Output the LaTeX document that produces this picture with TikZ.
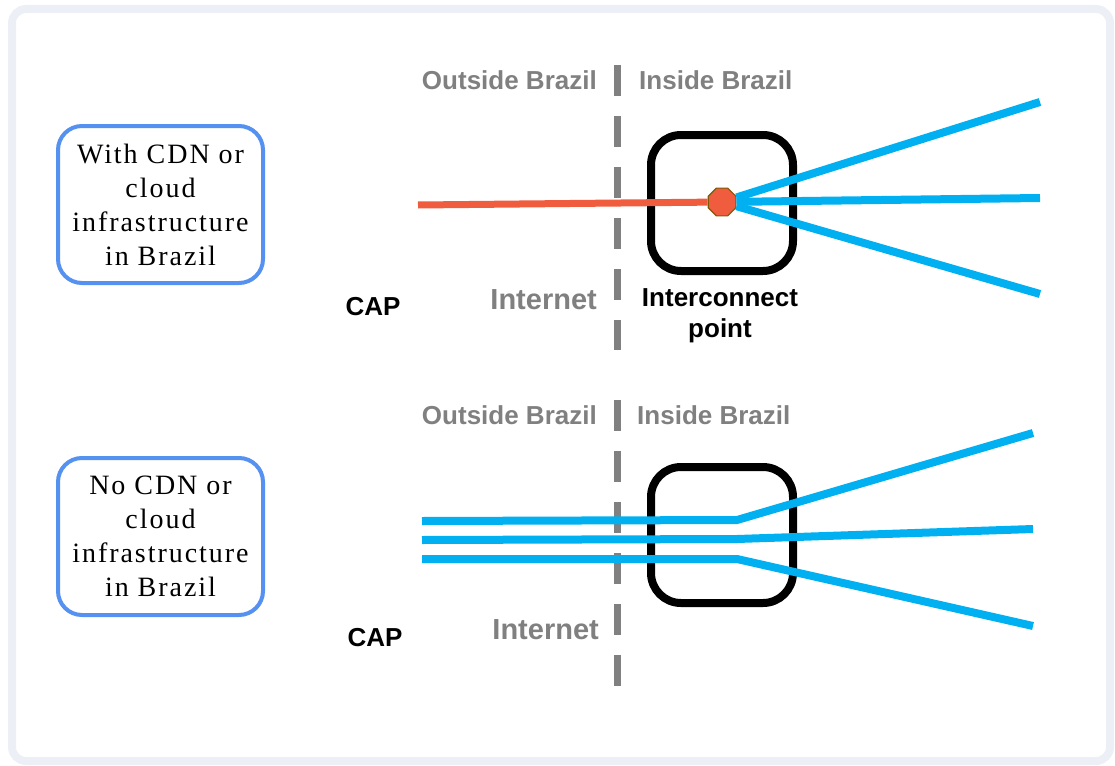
\documentclass[tikz,border=0pt]{standalone}
\usepackage{fontspec}
\setmainfont{Liberation Serif}
\setsansfont{Liberation Sans}
\newfontfamily\boxfont[LetterSpace=7]{Liberation Serif}
\usetikzlibrary{shapes.geometric}
\definecolor{framegray}{RGB}{236,240,246}
\definecolor{boxblue}  {RGB}{ 85,145,240}
\definecolor{wire}     {RGB}{  0,176,240}
\definecolor{transit}  {RGB}{240, 92, 62}
\definecolor{dotrim}   {RGB}{125, 90, 10}
\definecolor{sidegray} {RGB}{128,128,128}
\newcommand{\lblfont}{\sffamily\bfseries\fontsize{26}{31}\selectfont}
\newcommand{\netfont}{\sffamily\bfseries\fontsize{29}{34}\selectfont}

\begin{document}
\begin{tikzpicture}[x=1pt,y=-1pt,
   site/.style  ={draw=boxblue, line width=4, rounded corners=24, inner sep=0,
                  minimum width=205, minimum height=157, align=center,
                  font=\boxfont\fontsize{28}{34}\selectfont},
   ixp/.style   ={draw, line width=8, rounded corners=30, inner sep=0,
                  minimum width=142, minimum height=136},
   hop/.style   ={regular polygon, regular polygon sides=8, minimum size=30,
                  inner sep=0, fill=transit, draw=dotrim, line width=1.2},
   divide/.style={sidegray, line width=7, dash pattern=on 31 off 20},
   cable/.style ={wire, line width=8},
   route/.style ={transit, line width=7},
   sidelbl/.style={text=sidegray, font=\lblfont, inner sep=0}]
   \useasboundingbox (0,0) rectangle (1115,765);
   \draw[framegray, line width=8, rounded corners=14] (12,9) rectangle (1110,761);
 %
 % top: with CDN
   \node[site] (site1) at (160.5,204.5) {With CDN or\\cloud\\infrastructure\\in Brazil};
   \coordinate (cut1a) at (617, 65);
   \coordinate (cut1b) at (617,350);
   \draw[divide] (cut1a) -- (cut1b);
   \node[sidelbl, anchor=east] (out1) at (597, 80) {Outside Brazil};
   \node[sidelbl, anchor=west] (in1)  at (639, 80) {Inside Brazil};
   \node[sidelbl, anchor=east, font=\netfont] (net1) at (597,300) {Internet};
   \node[inner sep=0, font=\lblfont] (cap1) at (373,307) {CAP};
   \node[inner sep=0, font=\lblfont, align=center] (ixl1) at (720,316) {Interconnect\\point};
 %
   \node[ixp] (ixp1) at (722,203) {};
   \node[hop] (dot1) at (722,202) {};
   \coordinate (src1)  at ( 418,205);
   \coordinate (end1a) at (1040,102);
   \coordinate (end1b) at (1040,198);
   \coordinate (end1c) at (1040,294);
   \draw[route] (src1) -- (dot1);
   \draw[cable] (dot1) -- (end1a);
   \draw[cable] (dot1) -- (end1b);
   \draw[cable] (dot1) -- (end1c);
 %
 % bottom: no CDN
   \node[site] (site2) at (160.5,536.5) {No CDN or\\cloud\\infrastructure\\in Brazil};
   \coordinate (cut2a) at (617,400);
   \coordinate (cut2b) at (617,686);
   \draw[divide] (cut2a) -- (cut2b);
   \node[sidelbl, anchor=east] (out2) at (597,415) {Outside Brazil};
   \node[sidelbl, anchor=west] (in2)  at (637,415) {Inside Brazil};
   \node[sidelbl, anchor=east, font=\netfont] (net2) at (599,630) {Internet};
   \node[inner sep=0, font=\lblfont] (cap2) at (375,638) {CAP};
 %
   \node[ixp] (ixp2) at (722,535) {};
   \coordinate (src2a) at ( 422,521);
   \coordinate (src2b) at ( 422,540);
   \coordinate (src2c) at ( 422,559);
   \coordinate (bnd2a) at ( 737,520);
   \coordinate (bnd2b) at ( 737,539);
   \coordinate (bnd2c) at ( 737,559);
   \coordinate (end2a) at (1033,433);
   \coordinate (end2b) at (1033,529);
   \coordinate (end2c) at (1033,626);
   \draw[cable] (src2a) -- (bnd2a) -- (end2a);
   \draw[cable] (src2b) -- (bnd2b) -- (end2b);
   \draw[cable] (src2c) -- (bnd2c) -- (end2c);
\end{tikzpicture}
\end{document}
